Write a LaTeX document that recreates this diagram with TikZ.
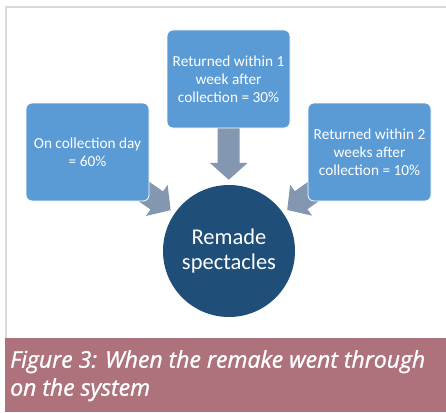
\documentclass[tikz,border=0pt]{standalone}
\usepackage{fontspec}
\setmainfont{Carlito}
\newfontfamily\capfont{Open Sans}[ItalicFeatures={FakeBold=1.2}]
\usetikzlibrary{arrows.meta,backgrounds}
\definecolor{boxblue}{HTML}{5B9BD5}
\definecolor{circblue}{HTML}{1F4E79}
\definecolor{arrowgray}{HTML}{8497B0}
\definecolor{capred}{HTML}{AE727C}
\definecolor{framegray}{HTML}{DCD9D6}
\tikzset{
  infobox/.style={rectangle, rounded corners=6pt, fill=boxblue, draw=white, line width=0.8pt,
    minimum width=123pt, minimum height=98pt, text=white, align=center,
    font=\fontsize{15.3}{17.8}\selectfont},
  hub/.style={circle, fill=circblue, minimum size=132pt, inner sep=0pt, text=white, align=center,
    font=\fontsize{22.5}{25.5}\selectfont},
  blockarrow/.style={draw=arrowgray, line width=22pt,
    -{Triangle[length=17pt,width=37pt,fill=arrowgray]}, shorten >=5pt, shorten <=-12pt},
  caption/.style={text=white, align=left, anchor=north west, inner sep=0pt,
    font=\capfont\itshape\fontsize{23}{28}\selectfont}
}
\begin{document}
\begin{tikzpicture}[x=1pt,y=-1pt]
\useasboundingbox (0,0) rectangle (446,412);
\draw[framegray, line width=2pt] (6,338) -- (6,7) -- (446,7);
\fill[capred] (5,338) rectangle (446,412);
\node[caption] (cap) at (10,350) {Figure 3: When the remake went through\\on the system};

\node[infobox] (tb) at (228.5,79) {Returned within 1\\week after\\collection = 30\%};
\node[infobox] (lb) at (87.5,152) {On collection day\\= 60\%};
\node[infobox] (rb) at (369.5,152) {Returned within 2\\weeks after\\collection = 10\%};
\node[hub] (hub) at (229,251) {Remade\\spectacles};

\begin{scope}[on background layer]
\draw[blockarrow] (tb) -- (hub);
\draw[blockarrow] (lb) -- (hub);
\draw[blockarrow] (rb) -- (hub);
\end{scope}
\end{tikzpicture}
\end{document}
